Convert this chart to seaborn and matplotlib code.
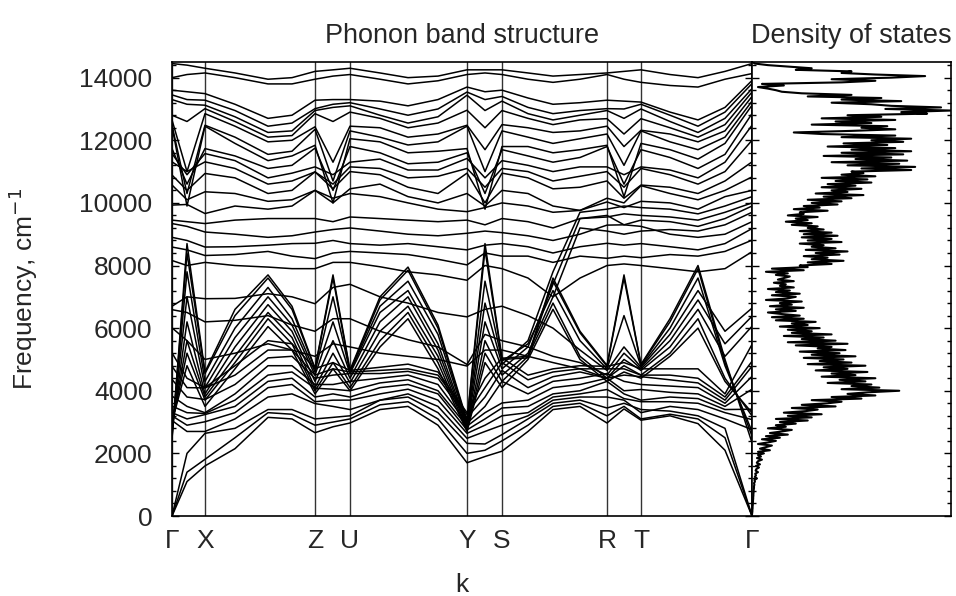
import matplotlib
matplotlib.use("Agg")
import matplotlib.pyplot as plt
import numpy as np
import pandas as pd
import seaborn as sns
from matplotlib.ticker import MultipleLocator

sns.set_theme(style="white")
plt.rcParams['font.family'] = ['Liberation Sans', 'DejaVu Sans']

# ---------------- data ----------------
# k-path sample positions (arbitrary path length units)
k_path = [0, 15, 33, 63, 96, 120, 143, 161, 178, 208, 236, 266, 295,
          313, 330, 356, 381, 408, 435, 452, 469, 498, 526, 553, 580]
sym_pos = [0, 33, 143, 178, 295, 330, 435, 469, 580]
sym_labels = ['Γ', 'X', 'Z', 'U', 'Y', 'S', 'R', 'T', 'Γ']

# phonon branches (cm^-1) at the k_path samples
H1 = [14450, 14400, 14300, 14150, 13950, 14000, 14200, 14250, 14300, 14150, 14000, 14050, 14250, 14250, 14250, 14150, 14050, 14100, 14150, 14200, 14250, 14100, 14000, 14200, 14450]
H2 = [14000, 14100, 14150, 14000, 13800, 13800, 13950, 14050, 14100, 13950, 13800, 13900, 14100, 14150, 14100, 13950, 13850, 13950, 14100, 13950, 13850, 13750, 13700, 13950, 14130]
H3 = [13600, 13550, 13490, 13150, 12700, 12800, 13280, 13300, 13300, 13250, 13100, 13300, 13700, 13550, 13600, 13350, 13150, 13200, 13280, 13250, 13220, 12900, 12650, 13050, 13910]
H4 = [13450, 13300, 13280, 12950, 12450, 12550, 13010, 13150, 13200, 13000, 12800, 13000, 13540, 13300, 13400, 13050, 12850, 12950, 13010, 13000, 13150, 12800, 12450, 12900, 13810]
H5 = [13300, 13150, 13120, 12750, 12250, 12300, 12950, 13050, 13100, 12800, 12550, 12750, 13440, 12950, 13250, 12850, 12650, 12800, 12950, 12700, 13000, 12600, 12250, 12700, 13650]
H6 = [12800, 12600, 13010, 12600, 12100, 12150, 12850, 12600, 12900, 12700, 12400, 12550, 12960, 12400, 12950, 12700, 12500, 12650, 12690, 12200, 12690, 12400, 12100, 12500, 13540]
H7 = [12650, 11000, 12850, 12450, 11950, 12000, 12430, 11300, 12450, 12400, 12100, 12200, 12480, 11700, 12500, 12400, 12250, 12300, 12450, 11800, 12320, 12200, 11950, 12300, 13400]
H8 = [12480, 10300, 12480, 12100, 11550, 11650, 12350, 10700, 12300, 12100, 11850, 11950, 12450, 11000, 12300, 12100, 11900, 12050, 12200, 11200, 12300, 11950, 11700, 12100, 13250]
H9 = [12450, 9900, 12450, 11900, 11350, 11500, 11840, 10000, 12050, 11950, 11600, 11650, 11735, 9800, 11800, 11800, 11600, 11700, 11840, 10200, 11900, 11700, 11400, 11900, 13120]
H10 = [11735, 10600, 11735, 11500, 11100, 11200, 11750, 10400, 11800, 11600, 11250, 11300, 11600, 10300, 11700, 11500, 11300, 11450, 11800, 10600, 11700, 11450, 11100, 11550, 12850]
H11 = [11575, 10900, 11575, 11350, 10800, 10950, 11150, 10900, 11300, 11400, 11050, 11050, 11420, 10800, 11350, 11200, 11000, 11150, 11150, 10900, 11150, 11050, 10800, 11300, 12480]
H12 = [11310, 11000, 11310, 11100, 10600, 10700, 10990, 10600, 11150, 11100, 10800, 10850, 11100, 10500, 11100, 11000, 10700, 10850, 11000, 10500, 11100, 10900, 10600, 11000, 12000]
H13 = [10890, 10400, 10940, 10800, 10300, 10400, 10990, 10450, 11000, 10900, 10500, 10300, 10950, 10000, 10950, 10800, 10450, 10500, 10700, 10150, 10570, 10500, 10300, 10700, 11310]
H14 = [10570, 10100, 10355, 10300, 10050, 10100, 10400, 10000, 10450, 10600, 10200, 10000, 10300, 9900, 10400, 10300, 9900, 9760, 10150, 10000, 10550, 10300, 10100, 10400, 10830]
H15 = [9930, 9950, 9660, 9900, 9800, 9900, 10400, 10150, 10300, 10200, 10000, 9800, 9720, 9850, 10000, 9900, 9700, 9760, 10030, 9850, 10050, 10000, 9800, 10200, 10400]
H16 = [9450, 9400, 9340, 9450, 9500, 9500, 9500, 9400, 9550, 9500, 9450, 9400, 9450, 9300, 9500, 9400, 9200, 9500, 9600, 9300, 9450, 9400, 9250, 9500, 9900]

F1 = [9340, 9250, 9070, 9000, 8900, 8950, 9070, 9150, 9200, 9100, 9000, 8950, 9030, 9100, 9050, 8950, 8800, 9000, 9290, 9300, 9250, 9000, 8900, 9000, 9400]
F2 = [8900, 8800, 8590, 8600, 8650, 8700, 8710, 8800, 8700, 8650, 8700, 8600, 8500, 8650, 8700, 8600, 8400, 8600, 8710, 8650, 8700, 8600, 8500, 8700, 9180]
F3 = [8590, 8500, 8320, 8350, 8450, 8300, 8220, 8400, 8450, 8400, 8350, 8200, 8020, 8400, 8300, 8300, 8100, 8300, 8230, 8300, 8250, 8350, 8300, 8450, 8810]
F4 = [8160, 8000, 8100, 8000, 7950, 7900, 7900, 8100, 8100, 7960, 7800, 7700, 7530, 8000, 7900, 7600, 7000, 7600, 8000, 8050, 8000, 7900, 7800, 7900, 8440]
F5 = [6700, 7000, 6940, 6950, 7100, 7000, 6780, 7300, 7400, 7000, 6800, 6500, 6360, 6600, 6700, 6400, 6000, 5300, 4650, 5400, 4750, 5800, 7200, 5900, 6640]
F6 = [6590, 6500, 6200, 6250, 6400, 6100, 5900, 6300, 6300, 5900, 5630, 5400, 4840, 5800, 5600, 5400, 5100, 4900, 4500, 5200, 4700, 5600, 6900, 5500, 6380]
F7 = [6010, 5600, 5000, 5200, 5500, 5300, 5100, 5500, 5400, 5200, 5100, 5000, 4790, 5300, 5300, 5100, 4900, 4700, 4400, 5000, 4650, 5400, 6600, 5100, 6060]

S1 = [2450, 8700, 4600, 6600, 7700, 6700, 4720, 7700, 4660, 7000, 7950, 6100, 3050, 8700, 5040, 5100, 7600, 5900, 4810, 7700, 4840, 6300, 8000, 5000, 2340]
S2 = [2500, 8400, 4550, 6400, 7600, 6600, 4700, 7600, 4620, 6900, 7850, 6000, 3000, 8500, 5000, 5050, 7500, 5850, 4780, 7600, 4820, 6200, 7900, 4900, 2550]
S3 = [2600, 7800, 4300, 6000, 7300, 6300, 4600, 7000, 4600, 6700, 7500, 5800, 2950, 7500, 4950, 5500, 7200, 5600, 4700, 6400, 4780, 6000, 7600, 4800, 2700]
S4 = [2700, 7000, 4100, 5700, 7000, 6100, 4500, 6200, 4550, 6500, 7200, 5500, 2900, 6800, 4840, 5600, 7800, 9700, 9800, 9900, 9850, 9800, 9650, 9900, 10200]
S5 = [2800, 6200, 3900, 5400, 6750, 5900, 4300, 5600, 4400, 6200, 7000, 5300, 2850, 6200, 4700, 5400, 7400, 9500, 9550, 9650, 9600, 9550, 9450, 9700, 10000]
S6 = [2900, 5600, 3800, 5100, 6500, 5700, 4100, 5200, 4250, 5900, 6700, 5100, 2800, 5600, 4500, 5200, 7000, 9200, 9100, 9000, 9100, 9150, 9100, 9300, 9700]
S7 = [2950, 5200, 3700, 4900, 6300, 5500, 4000, 4900, 4100, 5600, 6500, 4900, 2750, 5200, 4300, 5100, 6800, 5100, 4400, 4800, 4500, 5200, 6300, 4400, 3200]
S8 = [3000, 4800, 3500, 4700, 6050, 5300, 3900, 4700, 4000, 5400, 6300, 4700, 2700, 4900, 4100, 5000, 6600, 5000, 4300, 4600, 4400, 5100, 6000, 4300, 3300]

L1 = [0, 1100, 1600, 2150, 3150, 3100, 2660, 2850, 2970, 3400, 3500, 2900, 1700, 1900, 2070, 2700, 3400, 3500, 2970, 3420, 3060, 3200, 2950, 2100, 0]
L2 = [0, 1400, 1810, 2500, 3300, 3250, 2900, 3000, 3100, 3550, 3650, 3100, 2000, 2100, 2400, 2900, 3500, 3600, 3200, 3500, 3100, 3250, 3100, 2500, 0]
L3 = [0, 2000, 2640, 2800, 3400, 3400, 3100, 3150, 3200, 3700, 3800, 3300, 2320, 2300, 2600, 3100, 3600, 3700, 3450, 3600, 3400, 3350, 3200, 2800, 0]
L4 = [3050, 2700, 2700, 3100, 3800, 3900, 3590, 3500, 3400, 3700, 3900, 3500, 2480, 2700, 2900, 3200, 3700, 3800, 3800, 3700, 3300, 3500, 3400, 3100, 2760]
L5 = [3200, 2900, 3010, 3300, 4100, 4200, 3650, 3700, 3700, 3900, 4050, 3700, 2640, 2900, 3200, 3300, 3800, 3900, 4040, 3750, 3650, 3650, 3600, 3300, 3080]
L6 = [3300, 3100, 3240, 3500, 4300, 4400, 3800, 3900, 3800, 4100, 4200, 3900, 2750, 3100, 3450, 3500, 3900, 4000, 4300, 3900, 3700, 3800, 3750, 3400, 3410]
L7 = [3510, 3300, 3275, 3700, 4500, 4600, 4080, 4050, 4000, 4250, 4350, 4000, 2870, 3300, 3610, 3700, 4100, 4200, 4400, 4000, 4040, 3950, 3900, 3500, 4050]
L8 = [3830, 3500, 3300, 3900, 4800, 4800, 4200, 4200, 4300, 4400, 4500, 4200, 2960, 3500, 4300, 3900, 4300, 4400, 4550, 4300, 4200, 4150, 4100, 3600, 4460]
L9 = [4360, 3800, 3720, 4200, 5050, 5100, 4400, 4500, 4550, 4550, 4620, 4400, 3140, 3800, 4650, 4100, 4450, 4600, 4400, 4500, 4450, 4350, 4250, 3700, 4780]
L10 = [4780, 4100, 4090, 4500, 5300, 5300, 4500, 4700, 4600, 4650, 4700, 4500, 3240, 4100, 4900, 4350, 4600, 4700, 4700, 4700, 4500, 4500, 4400, 3800, 4940]
L11 = [5210, 4400, 4100, 4800, 5600, 5500, 4710, 4900, 4650, 4750, 4850, 4600, 3300, 4400, 5050, 4500, 4700, 4800, 4780, 4900, 4700, 4700, 4700, 3900, 5480]

branches = [H1, H2, H3, H4, H5, H6, H7, H8, H9, H10, H11, H12, H13, H14, H15, H16,
            F1, F2, F3, F4, F5, F6, F7, S1, S2, S3, S4, S5, S6, S7, S8,
            L1, L2, L3, L4, L5, L6, L7, L8, L9, L10, L11]

# density of states (relative units) on a 50 cm^-1 grid from 0 to 14500
dos_freq = list(range(0, 14550, 50))
dos_vals = [
    0, 0, 0.1, 0.2, 0.2, 0.3, 0.3, 0.4, 0.4, 0.5, 0.5, 0.6, 0.6, 0.7, 0.7, 0.8, 0.8, 0.9, 1, 1,
    1.2, 1, 1.5, 1.2, 2.5, 1.4, 2, 1.6, 3, 1.8, 2.2, 3.5, 2, 4, 2.4, 3, 5, 2.5, 4.5, 3,
    6, 3, 9, 4, 7, 10, 3, 8, 12, 5, 14, 7, 18, 9, 15, 20, 8, 17, 12, 22,
    14, 28, 12, 30, 18, 35, 16, 27, 33, 20, 42, 25, 38, 45, 30, 55, 40, 62, 48, 58,
    74, 45, 64, 50, 60, 38, 57, 44, 62, 35, 52, 40, 58, 32, 48, 36, 57, 28, 50, 34,
    46, 26, 52, 30, 44, 24, 47, 33, 40, 22, 48, 18, 42, 25, 36, 16, 40, 20, 30, 18,
    34, 14, 28, 20, 32, 12, 26, 10, 24, 15, 8, 22, 12, 26, 9, 20, 14, 25, 7, 18,
    22, 10, 24, 12, 19, 8, 21, 14, 17, 11, 21, 13, 16, 19, 12, 18, 7, 26, 10, 28,
    24, 40, 28, 46, 30, 38, 26, 44, 32, 48, 27, 42, 30, 36, 24, 45, 28, 40, 25, 43,
    26, 40, 24, 36, 28, 33, 20, 30, 17, 28, 22, 33, 18, 26, 24, 38, 21, 34, 26, 43,
    30, 45, 28, 50, 36, 56, 32, 48, 40, 55, 35, 52, 38, 60, 42, 58, 35, 62, 45, 56,
    50, 80, 55, 82, 48, 74, 40, 78, 52, 70, 36, 76, 45, 80, 50, 72, 38, 68, 46, 76,
    60, 80, 45, 72, 35, 21, 50, 72, 55, 68, 30, 60, 42, 72, 35, 65, 48, 88, 75, 100,
    67, 95, 70, 60, 40, 75, 45, 65, 28, 50, 25, 15, 12, 8, 3, 16, 5, 45, 62, 40,
    70, 87, 62, 45, 50, 22, 30, 19, 8, 1.5, 0]

rows = []
for i, br in enumerate(branches):
    for kk, f in zip(k_path, br):
        rows.append((i, kk, f))
bands_df = pd.DataFrame(rows, columns=['branch', 'k', 'freq'])
dos_df = pd.DataFrame({'freq': dos_freq, 'dos': dos_vals})

# ---------------- plot ----------------
FS = 19
FT = 19.5
fig = plt.figure(figsize=(9.56, 5.96), dpi=100)
ax = fig.add_axes([172/956, 1-516/596, 580/956, 454/596])
axd = fig.add_axes([752/956, 1-516/596, 199/956, 454/596])

for p in sym_pos:
    ax.axvline(p, color='0.2', lw=1.0, zorder=1)

sns.lineplot(data=bands_df, x='k', y='freq', units='branch', estimator=None,
             color='black', lw=1.1, ax=ax, legend=False, zorder=2)

ax.set_xlim(0, 580)
ax.set_ylim(0, 14500)
ax.set_xticks(sym_pos)
ax.set_xticklabels(sym_labels)
ax.tick_params(axis='x', length=0, pad=9, labelsize=FS)
ax.yaxis.set_major_locator(MultipleLocator(2000))
ax.yaxis.set_minor_locator(MultipleLocator(400))
ax.tick_params(axis='y', which='both', direction='in', left=True, right=True,
               labelsize=FS, color='black', pad=14)
ax.tick_params(axis='y', which='major', length=5, width=1)
ax.tick_params(axis='y', which='minor', length=3, width=1)
ax.set_ylabel('Frequency, cm$^{-1}$', fontsize=FS)
ax.yaxis.set_label_coords(-0.228, 0.5)
ax.set_xlabel('k', fontsize=FS)
ax.xaxis.set_label_coords(0.5, -0.125)
ax.set_title('Phonon band structure', fontsize=FT, pad=14)

sns.lineplot(data=dos_df, x='dos', y='freq', sort=False, orient='y',
             estimator=None, color='black', lw=1.5, ax=axd)
axd.set_xlim(0, 100)
axd.set_ylim(0, 14500)
axd.set_xticks([])
axd.set_xlabel('')
axd.set_ylabel('')
axd.yaxis.set_major_locator(MultipleLocator(2000))
axd.yaxis.set_minor_locator(MultipleLocator(400))
axd.tick_params(axis='y', which='both', direction='in', left=True, right=True,
                labelleft=False, color='black')
axd.tick_params(axis='y', which='major', length=5, width=1)
axd.tick_params(axis='y', which='minor', length=3, width=1)
axd.set_title('Density of states', fontsize=FT, pad=14)

for a in (ax, axd):
    for s in a.spines.values():
        s.set_color('black')
        s.set_linewidth(1.2)

fig.savefig('out.png', dpi=100)
